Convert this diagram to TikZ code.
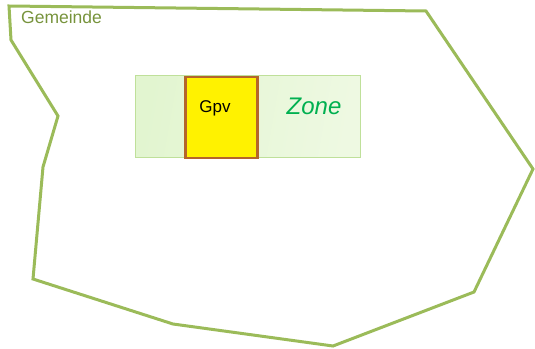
\documentclass[tikz,border=0pt]{standalone}
\usepackage{fontspec}
\setmainfont{Liberation Sans}
\definecolor{border}{HTML}{9BBB59}
\definecolor{labelgreen}{HTML}{77933C}
\definecolor{zoneedge}{HTML}{BFE09A}
\definecolor{zonefillA}{HTML}{E2F5D0}
\definecolor{zonefillB}{HTML}{EEF9E2}
\definecolor{gpvedge}{HTML}{B5652A}
\definecolor{zonetext}{HTML}{00B050}
\tikzset{
  commune/.style={draw=border, line width=3pt, line join=miter},
  zonebox/.style={draw=zoneedge, line width=1pt, left color=zonefillA, right color=zonefillB, shading angle=80},
  gpvbox/.style={draw=gpvedge, line width=2.6pt, fill=yellow},
}
\begin{document}
\begin{tikzpicture}[x=1pt,y=-1pt]
  \useasboundingbox (0,0) rectangle (535,348);
  % municipality outline
  \draw[commune] (9,6) -- (426,11) -- (533,169) -- (474,292) -- (333,346)
    -- (173,324) -- (33,279) -- (43,167) -- (58,116) -- (11,40) -- cycle;
  \node[anchor=north west, inner sep=0pt, text=labelgreen, font=\fontsize{17.5}{19}\selectfont] (gem) at (21,11) {Gemeinde};
  % zone with the Gpv inside
  \path[zonebox] (135,75) rectangle (360,157);
  \node[anchor=center, inner sep=0pt, text=zonetext, font=\fontsize{24}{28}\selectfont\itshape] (zone) at (314,106) {Zone};
  \node[gpvbox, minimum width=72pt, minimum height=81pt, inner sep=0pt, anchor=north west] (gpv) at (184,75.5) {};
  \node[inner sep=0pt, font=\fontsize{17}{20}\selectfont] (gpvlabel) at (215,108) {Gpv};
\end{tikzpicture}
\end{document}
